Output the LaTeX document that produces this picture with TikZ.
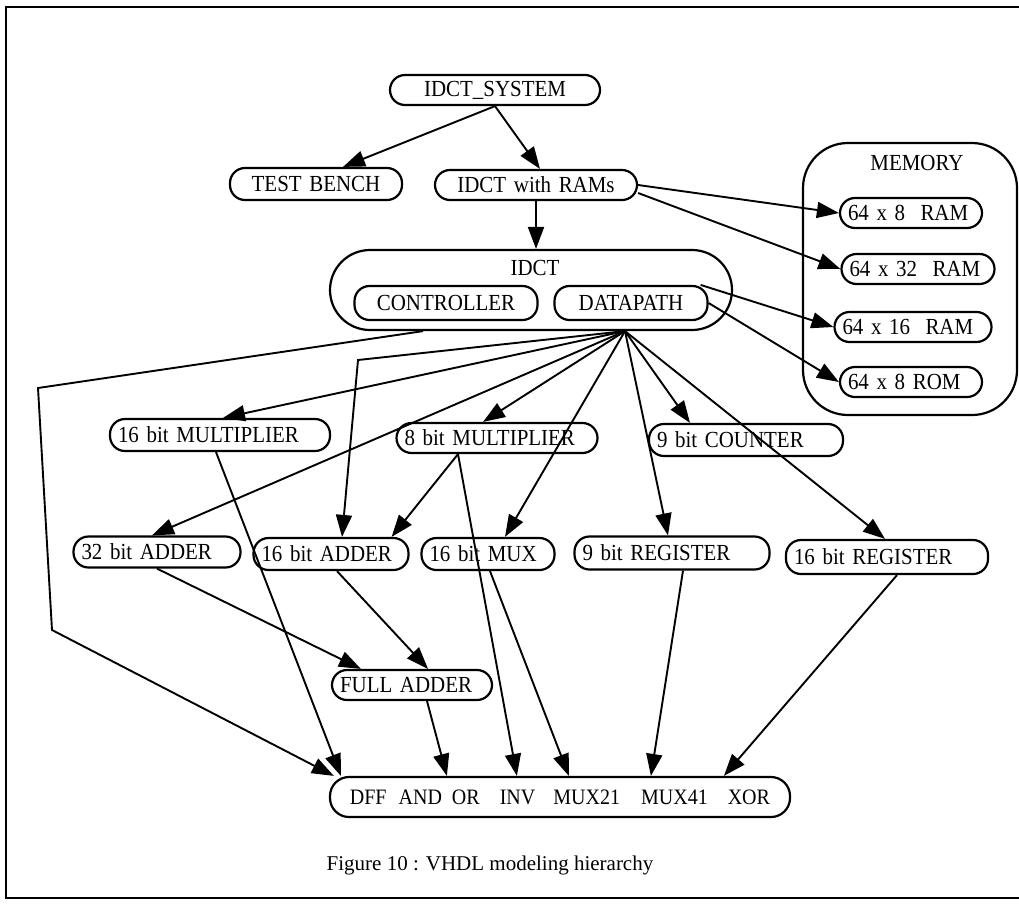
\documentclass[tikz,border=0pt]{standalone}
\usepackage{fontspec}
\setmainfont{Liberation Serif}
\newfontfamily\boxfont[FakeStretch=0.91]{Liberation Serif}
\usetikzlibrary{arrows.meta}
\tikzset{>={Triangle[length=22pt,width=16pt]}}
\tikzset{
  unit/.style={draw,line width=2.2pt,rectangle,rounded corners=15pt,minimum height=30pt,inner xsep=8pt,inner ysep=0pt,align=left},
  group/.style={draw,line width=2.2pt,rectangle,inner sep=0pt},
  link/.style={->,line width=1.9pt},
}

\begin{document}
\begin{tikzpicture}[x=1pt,y=-1pt,font=\boxfont\fontsize{23}{26}\selectfont]
\useasboundingbox (0,0) rectangle (1019,903);
\draw[line width=1.4pt] (1019,7) -- (6,7) -- (6,898) -- (1019,898);

\node[group,rounded corners=45pt,minimum width=214pt,minimum height=272pt] (memory) at (910,279) {};
\node (memlabel) at (917,163) {MEMORY};
\node[group,rounded corners=40pt,minimum width=402pt,minimum height=80pt] (idct) at (531,290) {};
\node (idctlabel) at (535,268) {IDCT};

\node[unit,text width=194pt,align=center] (sys) at (495,90) {IDCT\_SYSTEM};
\node[unit,text width=156pt,align=center,minimum height=32pt] (bench) at (316,184) {TEST BENCH};
\node[unit,text width=186pt,align=center] (ram) at (536,185) {IDCT with RAMs};
\node[unit,text width=126pt] (mem8) at (911,213) {64 x 8\ \ RAM};
\node[unit,text width=137pt] (mem32) at (918,269) {64 x 32\ \ RAM};
\node[unit,text width=141pt] (mem16) at (913,327) {64 x 16\ \ RAM};
\node[unit,text width=126pt] (rom) at (911,382) {64 x 8 ROM};
\node[unit,text width=167pt,align=center,minimum height=34pt] (controller) at (446,303) {CONTROLLER};
\node[unit,text width=137pt,align=center,minimum height=34pt] (datapath) at (631,303) {DATAPATH};

\node[unit,text width=204pt,minimum height=32pt] (mult16) at (220,435) {16 bit MULTIPLIER};
\node[unit,text width=185pt] (mult8) at (497,438) {8 bit MULTIPLIER};
\node[unit,text width=178pt,minimum height=32pt] (counter) at (746,440) {9 bit COUNTER};
\node[unit,text width=151pt,minimum height=31pt] (add32) at (157,552) {32 bit ADDER};
\node[unit,text width=139pt,minimum height=32pt] (add16) at (331,554) {16 bit ADDER};
\node[unit,text width=117pt,minimum height=32pt] (mux16) at (488,554) {16 bit MUX};
\node[unit,text width=179pt,minimum height=33pt] (reg9) at (672,553) {9 bit REGISTER};
\node[unit,text width=186pt,minimum height=34pt] (reg16) at (887,557) {16 bit REGISTER};
\node[unit,text width=144pt] (fulladd) at (412,685) {FULL ADDER};
\node[unit,rounded corners=19pt,minimum width=460pt,minimum height=40pt,font=\boxfont\fontsize{22}{26}\selectfont] (dff) at (560,797)
  {DFF\hspace{12pt}AND\hspace{10pt}OR\hspace{20pt}INV\hspace{18pt}MUX21\hspace{21pt}MUX41\hspace{20pt}XOR};

\node[font=\rmfamily\fontsize{21}{24}\selectfont] (caption) at (490,865) {Figure 10 : VHDL modeling hierarchy};

\path (datapath.south |- idct.south) ++(-6,0) coordinate (dpout);
\path (controller.south |- idct.south) ++(-23,0) coordinate (ctlout);
\coordinate (ctlbendA) at (38,388);
\coordinate (ctlbendB) at (52,630);
\coordinate (dpbend) at (358,360);

\draw[link] (sys.south) -- ([xshift=27pt]bench.north);
\draw[link] (sys.south) -- ([xshift=4pt]ram.north);
\draw[link] (ram.south) -- (ram.south |- idct.north);
\draw[link] (ram.east) -- (mem8.west);
\draw[link] ([yshift=-8pt]ram.east) -- (mem32.west);
\draw[link] ([xshift=-8pt]datapath.north east) -- (mem16.west);
\draw[link] (datapath.east) -- (rom.west);

\draw[link] (ctlout) -- (ctlbendA) -- (ctlbendB) -- ([xshift=5pt]dff.north west);

\foreach \dest/\dx in {mult16/3,mult8/-14,counter/-56,add32/-5,mux16/17,reg9/-4,reg16/-2}
  \draw[link] (dpout) -- ([xshift=\dx pt]\dest.north);
\draw[link] (dpout) -- (dpbend) -- ([xshift=11pt]add16.north);

\draw[link] ([xshift=-39pt]mult8.south) -- ([xshift=-18pt]add16.north east);
\draw[link] (add32.south) -- ([xshift=30pt]fulladd.north west);
\draw[link] ([xshift=6pt]add16.south) -- ([xshift=16pt]fulladd.north);

\foreach \src/\sx/\dx in {mult16/-4/12,mult8/-39/188,fulladd/15/118,mux16/2/240,reg9/11/322,reg16/10/395}
  \draw[link] ([xshift=\sx pt]\src.south) -- ([xshift=\dx pt]dff.north west);
\end{tikzpicture}
\end{document}
